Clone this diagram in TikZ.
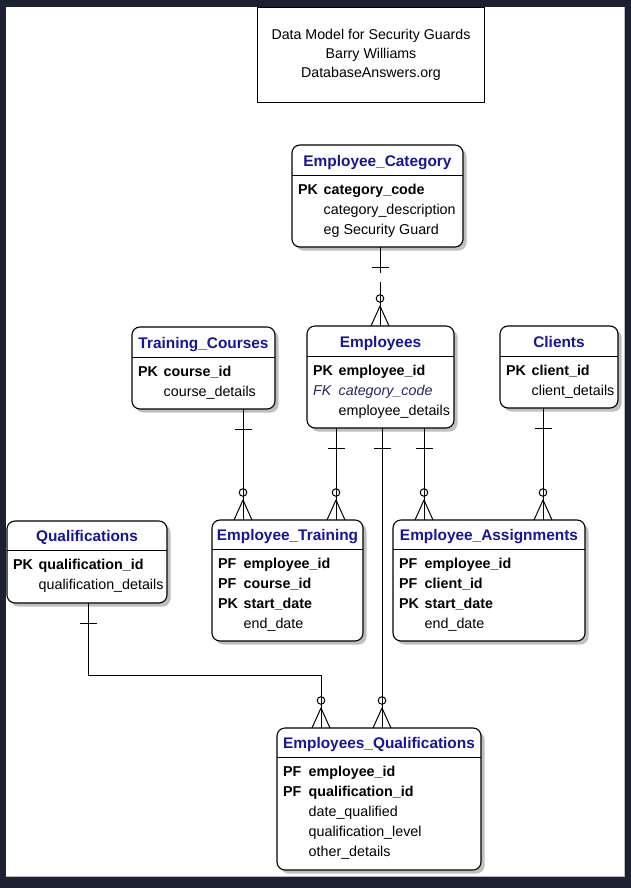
\documentclass[tikz,border=0pt]{standalone}
\usepackage{fontspec}
\setmainfont{Liberation Sans}
\usetikzlibrary{calc,shadows}
\definecolor{frame}{HTML}{1B2131}
\definecolor{ertitle}{RGB}{22,22,150}
\definecolor{fkblue}{RGB}{38,38,96}
\definecolor{shade}{HTML}{B4B4B4}

\tikzset{
  entity/.style={draw=black, line width=1.1pt, rounded corners=8pt, fill=white,
    anchor=north west, inner sep=0pt, outer sep=0pt,
    drop shadow={shadow xshift=3.5pt, shadow yshift=-3.5pt, fill=shade, opacity=0.85}},
  etitle/.style={anchor=base, inner sep=0pt, text=ertitle,
    font=\fontsize{15.4}{18}\selectfont\bfseries},
  erow/.style={anchor=base west, inner sep=0pt, font=\fontsize{14.3}{17}\selectfont},
  rel/.style={draw=black, line width=1pt},
  sepline/.style={draw=black, line width=1pt}
}

% entity box: name, left, top, width, height, header height, title
\newcommand\entity[7]{%
  \node[entity, minimum width=#4pt, minimum height=#5pt] (#1) at (#2,#3) {};
  \draw[sepline] ($(#1.north west)+(0,#6)$) -- ($(#1.north east)+(0,#6)$);
  \node[etitle] (#1-name) at ($(#1.north)+(0,#6-8.5)$) {#7};
}
% attribute rows: entity, header height, list of key/attribute
\newcommand\rows[3]{%
  \foreach \k/\a [count=\i] in {#3} {
    \node[erow] (#1-k\i) at ($(#1.north west)+(6,#2+19.5+20*\i-20)$) {\k};
    \node[erow] (#1-a\i) at ($(#1.north west)+(31.5,#2+19.5+20*\i-20)$) {\a};
  }
}
% "one" bar just below the parent entity
\newcommand\onebar[2]{%
  \draw[rel] ($(#1 |- #2.south)+(-8.5,20.5)$) -- ++(17,0);
}
% "zero or many" circle and crow's foot just above the child entity
\newcommand\zeromany[2]{%
  \draw[rel] ($(#1 |- #2.north)+(0,-20)$) -- ++(-9,20)
             ($(#1 |- #2.north)+(0,-20)$) -- ++(9,20);
  \draw[rel] ($(#1 |- #2.north)+(0,-27.5)$) circle (3.8);
}

\begin{document}
\begin{tikzpicture}[x=1pt, y=-1pt]
  \useasboundingbox (0,0) rectangle (631,888);
  \fill[frame] (0,0) rectangle (631,888);
  \fill[white] (6,7) rectangle (625,877);
  \draw[gray!55, line width=1pt] (624.5,7) -- (624.5,876.5) -- (6,876.5);

  % heading
  \node[draw, line width=1pt, minimum width=227pt, minimum height=95pt, anchor=north west,
        align=center, inner sep=0pt, font=\fontsize{14.2}{19}\selectfont]
        (hdr) at (257,7) {Data Model for Security Guards\\Barry Williams\\DatabaseAnswers.org};

  % entities
  \entity{cat}{292}{145}{171}{102}{30}{Employee\_Category}
  \rows{cat}{30}{\textbf{PK}/\textbf{category\_code}, {}/category\_description, {}/eg Security Guard}

  \entity{tc}{132}{327}{143}{82}{30}{Training\_Courses}
  \rows{tc}{30}{\textbf{PK}/\textbf{course\_id}, {}/course\_details}

  \entity{emp}{307}{326}{147}{102}{30}{Employees}
  \rows{emp}{30}{\textbf{PK}/\textbf{employee\_id},
    {\textcolor{fkblue}{\itshape FK}}/{\textcolor{fkblue}{\itshape category\_code}},
    {}/employee\_details}

  \entity{cli}{500}{326}{118}{82}{30}{Clients}
  \rows{cli}{30}{\textbf{PK}/\textbf{client\_id}, {}/client\_details}

  \entity{qual}{7}{521}{160}{82}{29}{Qualifications}
  \rows{qual}{29}{\textbf{PK}/\textbf{qualification\_id}, {}/qualification\_details}

  \entity{et}{212}{520}{151}{121}{29}{Employee\_Training}
  \rows{et}{29}{\textbf{PF}/\textbf{employee\_id}, \textbf{PF}/\textbf{course\_id},
    \textbf{PK}/\textbf{start\_date}, {}/end\_date}

  \entity{ea}{393}{520}{192}{121}{29}{Employee\_Assignments}
  \rows{ea}{29}{\textbf{PF}/\textbf{employee\_id}, \textbf{PF}/\textbf{client\_id},
    \textbf{PK}/\textbf{start\_date}, {}/end\_date}

  \entity{eq}{277}{728}{204}{142}{29}{Employees\_Qualifications}
  \rows{eq}{29}{\textbf{PF}/\textbf{employee\_id}, \textbf{PF}/\textbf{qualification\_id},
    {}/date\_qualified, {}/qualification\_level, {}/other\_details}

  % connector columns
  \coordinate (xcat) at (380,0);
  \coordinate (xtc)  at (243,0);
  \coordinate (xet)  at (336,0);
  \coordinate (xeq)  at (382,0);
  \coordinate (xea)  at (424,0);
  \coordinate (xcli) at (543,0);
  \coordinate (xq)   at (88,0);
  \coordinate (xq2)  at (321,0);
  \coordinate (yq)   at (0,675);

  % relationships
  \draw[rel, dash pattern=on 26pt off 9pt on 200pt] (xcat |- cat.south) -- (xcat |- emp.north);
  \onebar{xcat}{cat} \zeromany{xcat}{emp}

  \draw[rel] (xtc |- tc.south) -- (xtc |- et.north);
  \onebar{xtc}{tc} \zeromany{xtc}{et}

  \draw[rel] (xet |- emp.south) -- (xet |- et.north);
  \onebar{xet}{emp} \zeromany{xet}{et}

  \draw[rel] (xeq |- emp.south) -- (xeq |- eq.north);
  \onebar{xeq}{emp} \zeromany{xeq}{eq}

  \draw[rel] (xea |- emp.south) -- (xea |- ea.north);
  \onebar{xea}{emp} \zeromany{xea}{ea}

  \draw[rel] (xcli |- cli.south) -- (xcli |- ea.north);
  \onebar{xcli}{cli} \zeromany{xcli}{ea}

  \draw[rel] (xq |- qual.south) |- (xq2 |- yq) -- (xq2 |- eq.north);
  \onebar{xq}{qual} \zeromany{xq2}{eq}
\end{tikzpicture}
\end{document}
